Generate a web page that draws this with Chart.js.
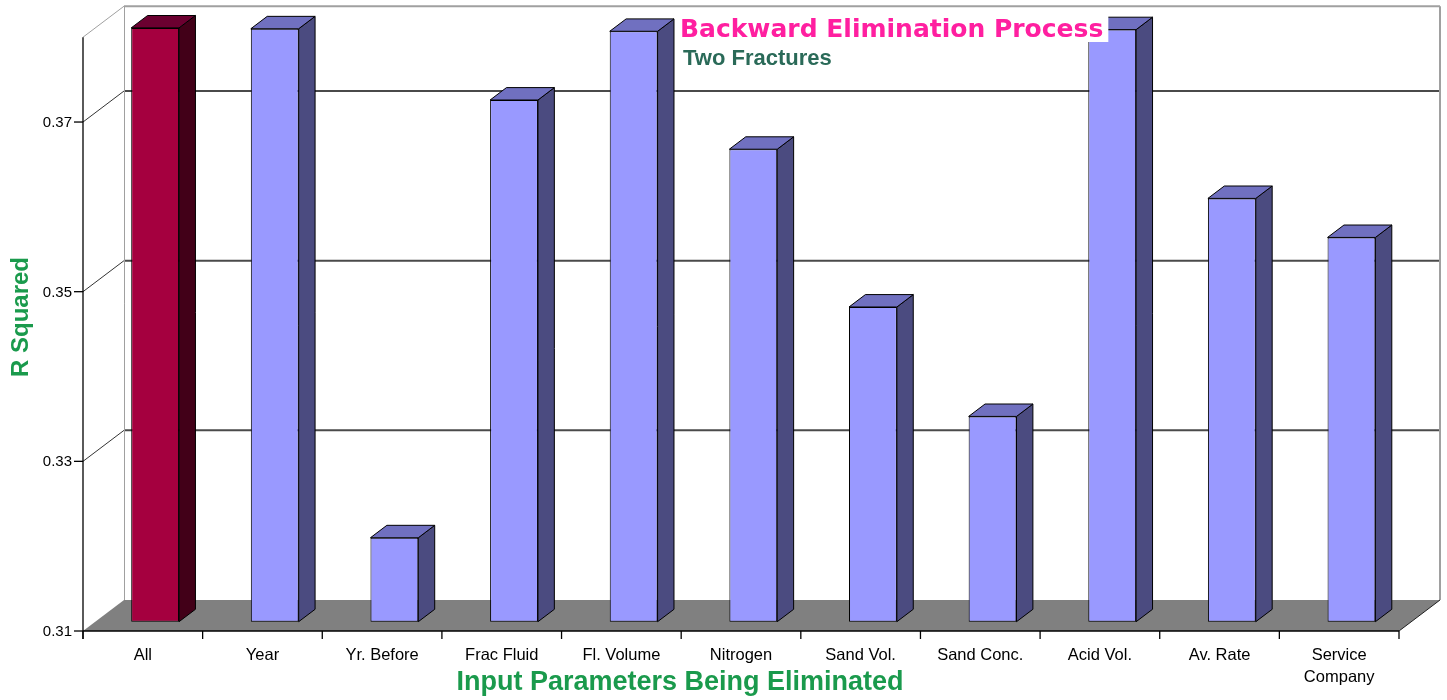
<!DOCTYPE html>
<html>
<head>
<meta charset="utf-8">
<script src="https://cdn.jsdelivr.net/npm/chart.js@4/dist/chart.umd.min.js"></script>
<style>
  html, body { margin: 0; padding: 0; background: #fff; overflow: hidden; }
  canvas { display: block; }
</style>
</head>
<body>
<canvas id="chart" width="1447" height="700"></canvas>
<script>
// ---- data ----
const categories = ['All', 'Year', 'Yr. Before', 'Frac Fluid', 'Fl. Volume', 'Nitrogen',
  'Sand Vol.', 'Sand Conc.', 'Acid Vol.', 'Av. Rate', ['Service', 'Company']];
const rSquared = [0.38, 0.3799, 0.3199, 0.3715, 0.3796, 0.3657, 0.3471, 0.3342, 0.3798, 0.3599, 0.3553];
const yTicks = [0.31, 0.33, 0.35, 0.37];
const yTickLabels = ['0.31', '0.33', '0.35', '0.37'];
const yMin = 0.31;
const yMax = 0.38;
const chartTitle = 'Backward Elimination Process';
const chartSubtitle = 'Two Fractures';
const xTitle = 'Input Parameters Being Eliminated';
const yTitle = 'R Squared';

// ---- styles ----
const faceColors = {
  base:  { front: '#9999FF', top: '#7070C0', side: '#4B4B80' },
  first: { front: '#A5003F', top: '#6B0030', side: '#420018' }
};
const colorsFor = i => (i === 0 ? faceColors.first : faceColors.base);

// 3D box: full depth of the plot box, and where the bars sit inside it
const DEPTH = { x: 41, y: -31 };
const FRONT_F = 0.3;   // bar front face, as fraction of depth behind the front plane
const BAR_F = 0.4;     // bar thickness, as fraction of depth

function line(ctx, x1, y1, x2, y2) {
  ctx.beginPath(); ctx.moveTo(x1, y1); ctx.lineTo(x2, y2); ctx.stroke();
}
function poly(ctx, pts, fill, stroke) {
  ctx.beginPath();
  ctx.moveTo(pts[0][0], pts[0][1]);
  for (let i = 1; i < pts.length; i++) ctx.lineTo(pts[i][0], pts[i][1]);
  ctx.closePath();
  if (fill) { ctx.fillStyle = fill; ctx.fill(); }
  if (stroke) { ctx.strokeStyle = stroke; ctx.stroke(); }
}

const box3d = {
  id: 'box3d',
  beforeDatasetsDraw(chart) {
    const { ctx, chartArea: a, scales: { x, y } } = chart;
    const fx = -FRONT_F * DEPTH.x, fy = -FRONT_F * DEPTH.y;            // bar plane -> front plane
    const bx = (1 - FRONT_F) * DEPTH.x, by = (1 - FRONT_F) * DEPTH.y;  // bar plane -> back wall
    const T = y.getPixelForValue(yMax), B = y.getPixelForValue(yMin);
    const fL = a.left + fx, fR = a.right + fx, fT = T + fy, fB = B + fy;
    const kL = a.left + bx, kR = a.right + bx, kT = T + by, kB = B + by;

    ctx.save();
    // back wall
    ctx.fillStyle = '#ffffff';
    ctx.fillRect(kL, kT, kR - kL, kB - kT);

    // gridlines on the back wall
    ctx.strokeStyle = '#4a4a4a';
    ctx.lineWidth = 2;
    yTicks.forEach(v => {
      if (v === yMin) return;
      const p = y.getPixelForValue(v) + by;
      line(ctx, kL, p, kR, p);
    });
    // gridlines across the left wall
    ctx.strokeStyle = '#333333';
    ctx.lineWidth = 1;
    yTicks.forEach(v => {
      if (v === yMin) return;
      const p = y.getPixelForValue(v);
      line(ctx, fL, p + fy, kL, p + by);
    });

    // wall borders
    ctx.strokeStyle = '#a0a0a0';
    ctx.lineWidth = 2;
    line(ctx, kL, kT, kR, kT);
    line(ctx, kR, kT, kR, kB);
    ctx.lineWidth = 1;
    line(ctx, kL + 0.5, kT, kL + 0.5, kB);
    line(ctx, fL, fT, kL, kT);

    // floor
    poly(ctx, [[fL, fB], [fR, fB], [kR, kB], [kL, kB]], '#808080', null);
    ctx.strokeStyle = '#202020';
    line(ctx, fR, fB, kR, kB);

    // front axes
    ctx.strokeStyle = '#000000';
    ctx.lineWidth = 1.3;
    line(ctx, fL, fB, fR, fB);
    line(ctx, fL, fT, fL, fB + 8);

    // y ticks + labels
    ctx.fillStyle = '#000000';
    ctx.font = '15px "Liberation Sans", Arial, sans-serif';
    ctx.textAlign = 'right';
    ctx.textBaseline = 'middle';
    yTicks.forEach((v, i) => {
      const p = y.getPixelForValue(v) + fy;
      line(ctx, fL - 9, p, fL, p);
      ctx.fillText(yTickLabels[i], fL - 11, p + 1);
    });

    // x ticks + labels
    const n = categories.length;
    const slot = (a.right - a.left) / n;
    for (let i = 0; i <= n; i++) {
      const px = a.left + i * slot + fx;
      line(ctx, px, fB, px, fB + 8);
    }
    ctx.textAlign = 'center';
    ctx.font = '16.5px "Liberation Sans", Arial, sans-serif';
    categories.forEach((c, i) => {
      const cx = x.getPixelForValue(i) + fx;
      const lines = Array.isArray(c) ? c : [c];
      lines.forEach((t, j) => ctx.fillText(t, cx, fB + 24 + j * 22));
    });
    ctx.restore();
  },
  afterDatasetsDraw(chart) {
    const { ctx } = chart;
    const meta = chart.getDatasetMeta(0);
    const dx = BAR_F * DEPTH.x, dy = BAR_F * DEPTH.y;
    ctx.save();
    ctx.lineWidth = 1;
    ctx.lineJoin = 'round';
    meta.data.forEach((bar, i) => {
      const p = bar.getProps(['x', 'y', 'base', 'width'], true);
      const l = p.x - p.width / 2, r = p.x + p.width / 2;
      const top = Math.min(p.y, p.base), bot = Math.max(p.y, p.base);
      const c = colorsFor(i);
      poly(ctx, [[r, top], [r + dx, top + dy], [r + dx, bot + dy], [r, bot]], c.side, '#000');
      poly(ctx, [[l, top], [l + dx, top + dy], [r + dx, top + dy], [r, top]], c.top, '#000');
    });
    ctx.restore();
  },
  afterDraw(chart) {
    const { ctx } = chart;
    ctx.save();
    // main title with its white box
    ctx.font = 'bold 25px "DejaVu Sans", Verdana, sans-serif';
    const w = ctx.measureText(chartTitle).width;
    ctx.fillStyle = '#ffffff';
    ctx.fillRect(677, 12, w + 8, 30);
    ctx.fillStyle = '#FF1FA0';
    ctx.textAlign = 'left';
    ctx.textBaseline = 'alphabetic';
    ctx.fillText(chartTitle, 680, 37);

    ctx.font = 'bold 22px "Liberation Sans", Arial, sans-serif';
    ctx.fillStyle = '#2A6A58';
    ctx.fillText(chartSubtitle, 683, 65);

    // axis titles
    ctx.fillStyle = '#1A9A4C';
    ctx.font = 'bold 27px "Liberation Sans", Arial, sans-serif';
    ctx.textAlign = 'center';
    ctx.textBaseline = 'middle';
    ctx.fillText(xTitle, 680, 683);

    ctx.font = 'bold 24px "Liberation Sans", Arial, sans-serif';
    ctx.translate(21, 317);
    ctx.rotate(-Math.PI / 2);
    ctx.fillText(yTitle, 0, 0);
    ctx.restore();
  }
};

new Chart(document.getElementById('chart'), {
  type: 'bar',
  data: {
    labels: categories,
    datasets: [{
      // each column rises from the floor of the axis (yMin) to its R squared value
      data: rSquared.map(v => [yMin, v]),
      backgroundColor: rSquared.map((_, i) => colorsFor(i).front),
      borderColor: '#000000',
      borderWidth: 1,
      borderSkipped: false,
      barPercentage: 0.4,
      categoryPercentage: 1.0,
      clip: false
    }]
  },
  options: {
    responsive: false,
    animation: false,
    layout: { padding: { left: 95.3, right: 35.7, top: 27.9, bottom: 78.3 } },
    plugins: { legend: { display: false }, tooltip: { enabled: false }, title: { display: false } },
    scales: {
      x: { display: false },
      y: { display: false, min: yMin, max: yMax }
    }
  },
  plugins: [box3d]
});
</script>
</body>
</html>
